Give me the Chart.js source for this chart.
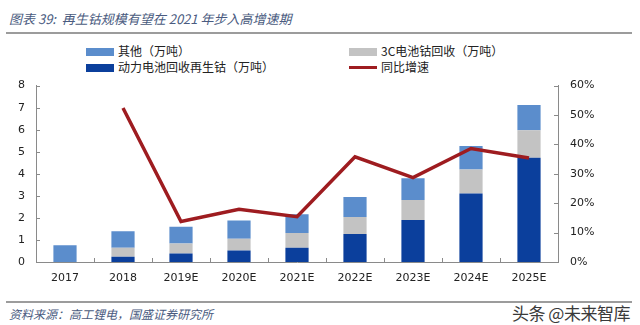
<!DOCTYPE html>
<html>
<head>
<meta charset="utf-8">
<script src="https://cdn.jsdelivr.net/npm/chart.js@4/dist/chart.umd.min.js"></script>
<style>
  html, body { margin: 0; padding: 0; background: #fff; }
  #wrap { position: relative; width: 640px; height: 325px; overflow: hidden; font-family: "Noto Sans CJK SC", sans-serif; }
  .titulo { position: absolute; left: 9px; top: 9px; font-size: 13px; font-style: italic; color: #4a5b80; }
  .regra { position: absolute; left: 6px; width: 626px; height: 2px; background: #9c9c9c; }
  .fonte { position: absolute; left: 9px; top: 305px; font-size: 12px; font-style: italic; color: #4a5b80; }
  .marca { position: absolute; left: 512px; top: 300px; font-size: 17px; color: #3a3a3a; letter-spacing: -0.5px; }
  .leg { position: absolute; font-size: 12px; color: #222; line-height: 14px; }
  .leg i { display: inline-block; width: 28px; height: 8px; vertical-align: middle; margin-right: 4px; margin-top: -2px; }
  .leg i.linha { height: 3px; }
  #grafico { position: absolute; left: 0; top: 67px; }
</style>
</head>
<body>
<div id="wrap">
  <div class="titulo">图表 39:&nbsp; 再生钴规模有望在 2021 年步入高增速期</div>
  <div class="regra" style="top:32px"></div>

  <div class="leg" style="left:86px; top:44px"><i style="background:#5b8dcc"></i>其他（万吨）</div>
  <div class="leg" style="left:349px; top:44px"><i style="background:#c3c3c3"></i>3C电池钴回收（万吨）</div>
  <div class="leg" style="left:86px; top:60px"><i style="background:#0b3f9c"></i>动力电池回收再生钴（万吨）</div>
  <div class="leg" style="left:349px; top:60px"><i class="linha" style="background:#9e1c20"></i>同比增速</div>

  <canvas id="grafico" width="640" height="224"></canvas>

  <div class="regra" style="top:301px"></div>
  <div class="fonte">资料来源：高工锂电，国盛证券研究所</div>
  <div class="marca">头条 @未来智库</div>
</div>

<script>
// categorias e séries (万吨 / %)
const anos = ['2017', '2018', '2019E', '2020E', '2021E', '2022E', '2023E', '2024E', '2025E'];
const dinamica = [0, 0.24, 0.38, 0.52, 0.65, 1.27, 1.90, 3.11, 4.73];   // 动力电池回收再生钴
const bateria3C = [0, 0.41, 0.46, 0.54, 0.67, 0.77, 0.91, 1.08, 1.25];  // 3C电池钴回收
const outros = [0.76, 0.74, 0.76, 0.82, 0.85, 0.91, 0.99, 1.07, 1.14]; // 其他
const crescimento = [null, 52.4, 13.8, 17.9, 15.4, 35.8, 28.7, 38.6, 35.4]; // 同比增速 %

const ticksEsq = [0, 1, 2, 3, 4, 5, 6, 7, 8];
const ticksDir = [0, 10, 20, 30, 40, 50, 60];

const COR_EIXO = '#8a8a8a';
const fonteEixo = { family: 'DejaVu Sans', size: 11 };

// pequenos traços para dentro da área do gráfico
const tracosInternos = {
  id: 'tracosInternos',
  afterDraw(chart) {
    const { ctx, chartArea, scales } = chart;
    ctx.save();
    ctx.strokeStyle = COR_EIXO;
    ctx.lineWidth = 1;
    ctx.beginPath();
    ticksEsq.forEach(v => {
      const y = Math.round(scales.y.getPixelForValue(v)) + 0.5;
      ctx.moveTo(chartArea.left, y);
      ctx.lineTo(chartArea.left + 4, y);
    });
    ticksDir.forEach(v => {
      const y = Math.round(scales.y1.getPixelForValue(v)) + 0.5;
      ctx.moveTo(chartArea.right, y);
      ctx.lineTo(chartArea.right - 4, y);
    });
    const passo = (chartArea.right - chartArea.left) / anos.length;
    for (let i = 1; i < anos.length; i++) {
      const x = Math.round(chartArea.left + passo * i) + 0.5;
      ctx.moveTo(x, chartArea.bottom);
      ctx.lineTo(x, chartArea.bottom - 4);
    }
    ctx.stroke();
    ctx.restore();
  }
};

const ctx = document.getElementById('grafico').getContext('2d');
new Chart(ctx, {
  data: {
    labels: anos,
    datasets: [
      {
        type: 'line',
        label: '同比增速',
        data: crescimento,
        yAxisID: 'y1',
        borderColor: '#9e1c20',
        borderWidth: 3.5,
        pointRadius: 0,
        tension: 0,
        order: 0
      },
      {
        type: 'bar',
        label: '动力电池回收再生钴（万吨）',
        data: dinamica,
        backgroundColor: '#0b3f9c',
        stack: 's',
        barPercentage: 0.4,
        categoryPercentage: 1,
        order: 1
      },
      {
        type: 'bar',
        label: '3C电池钴回收（万吨）',
        data: bateria3C,
        backgroundColor: '#c3c3c3',
        stack: 's',
        barPercentage: 0.4,
        categoryPercentage: 1,
        order: 1
      },
      {
        type: 'bar',
        label: '其他（万吨）',
        data: outros,
        backgroundColor: '#5b8dcc',
        stack: 's',
        barPercentage: 0.4,
        categoryPercentage: 1,
        order: 1
      }
    ]
  },
  options: {
    responsive: false,
    animation: false,
    layout: { padding: { top: 0 } },
    plugins: {
      legend: { display: false },
      tooltip: { enabled: false }
    },
    scales: {
      x: {
        stacked: true,
        grid: { display: false, drawTicks: false },
        border: { color: COR_EIXO, width: 1 },
        ticks: { color: '#222', font: fonteEixo, padding: 10 },
        afterFit(s) { s.height = 29; }
      },
      y: {
        stacked: true,
        position: 'left',
        min: 0,
        max: 8,
        afterBuildTicks(s) { s.ticks = ticksEsq.map(v => ({ value: v })); },
        grid: { display: false, drawTicks: false },
        border: { color: COR_EIXO, width: 1 },
        ticks: { color: '#222', font: fonteEixo, padding: 11 },
        afterFit(s) { s.width = 36; }
      },
      y1: {
        position: 'right',
        min: 0,
        max: 60,
        afterBuildTicks(s) { s.ticks = ticksDir.map(v => ({ value: v })); },
        grid: { display: false, drawTicks: false },
        border: { color: COR_EIXO, width: 1 },
        ticks: { color: '#222', font: fonteEixo, padding: 12, callback: v => v + '%' },
        afterFit(s) { s.width = 82; }
      }
    }
  },
  plugins: [tracosInternos]
});
</script>
</body>
</html>
